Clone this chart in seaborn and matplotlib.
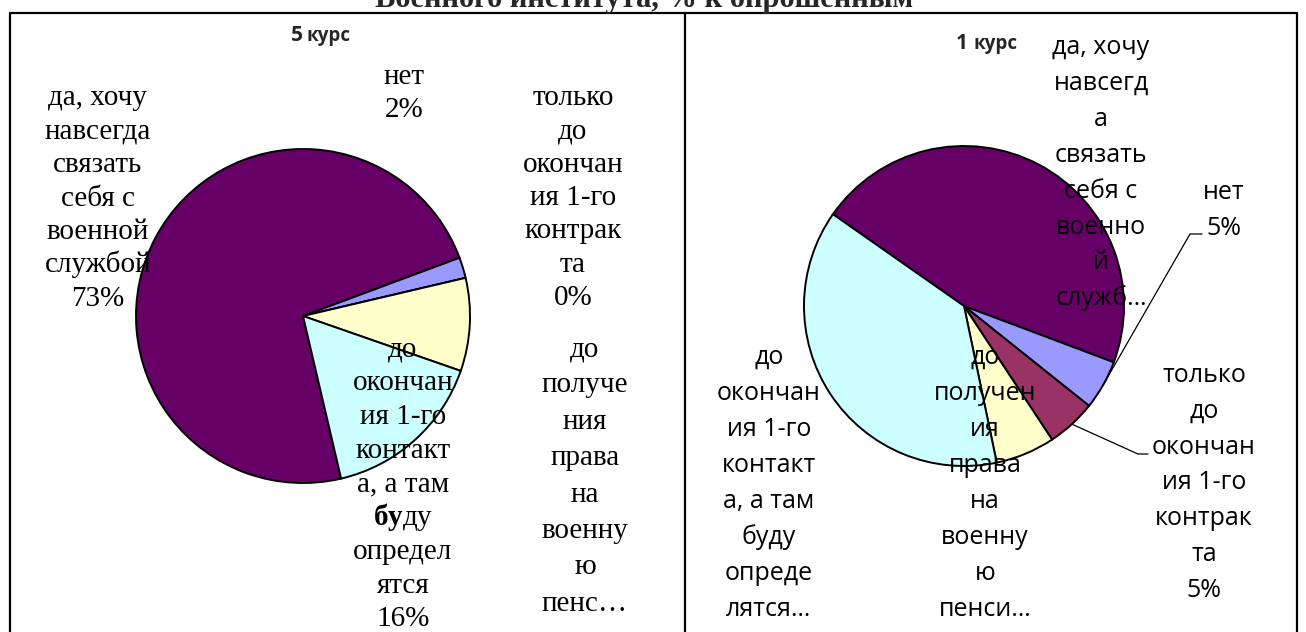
import numpy as np
import pandas as pd
import seaborn as sns
import matplotlib
matplotlib.use("Agg")
import matplotlib.pyplot as plt
from matplotlib.lines import Line2D

# ---------------- data ----------------
title_text = "Военного института, % к опрошенным"
course_5_num, course_5_word = "5", "курс"
course_1_num, course_1_word = "1", "курс"

categories = [
    "да, хочу навсегда связать себя с военной службой",
    "нет",
    "только до окончания 1-го контракта",
    "до получения права на военную пенсию",
    "до окончания 1-го контакта, а там буду определятся",
]
values_5 = [73, 2, 0, 9, 16]
values_1 = [46, 5, 5, 6, 38]

labels_5 = [
    "да, хочу\nнавсегда\nсвязать\nсебя с\nвоенной\nслужбой\n73%",
    "нет\n2%",
    "только\nдо\nокончан\nия 1-го\nконтрак\nта\n0%",
    "до\nполуче\nния\nправа\nна\nвоенну\nю\nпенс…",
    "до\nокончан\nия 1-го\nконтакт\nа, а там\n$\\mathbf{бу}$ду\nопредел\nятся\n16%",
]
labels_1 = [
    "да, хочу\nнавсегд\nа\nсвязать\nсебя с\nвоенно\nй\nслужб…",
    "нет\n5%",
    "только\nдо\nокончан\nия 1-го\nконтрак\nта\n5%",
    "до\nполучен\nия\nправа\nна\nвоенну\nю\nпенси…",
    "до\nокончан\nия 1-го\nконтакт\nа, а там\nбуду\nопреде\nлятся…",
]

colors = ["#660066", "#9999FF", "#993366", "#FFFFCC", "#CCFFFF"]

# ---------------- style ----------------
sns.set_theme(style="white")
plt.rcParams["font.family"] = ["Liberation Serif", "DejaVu Serif"]
plt.rcParams["mathtext.fontset"] = "custom"
plt.rcParams["mathtext.rm"] = "Liberation Serif"
plt.rcParams["mathtext.bf"] = "Liberation Serif:bold"

W, H = 1306, 632
fig = plt.figure(figsize=(W / 100, H / 100), dpi=100, facecolor="white")

SERIF = ["Liberation Serif", "DejaVu Serif"]
SANS = ["Open Sans", "DejaVu Sans"]


def fx(x):
    return x / W


def fy(y):
    return 1 - y / H


def draw_label(text, x, y0, step, size, family):
    for i, line in enumerate(text.split("\n")):
        fig.text(fx(x), fy(y0 + i * step), line, ha="center", va="baseline",
                 fontsize=size, family=family, color="black")


def pie_axes(cx, cy, r, values, start):
    ax = fig.add_axes([fx(cx - r), fy(cy + r), 2 * r / W, 2 * r / H])
    wedges, _ = ax.pie(values, colors=colors, startangle=start, counterclock=False,
                       radius=1, wedgeprops=dict(edgecolor="black", linewidth=1.4))
    for w in wedges:
        w.set_clip_on(False)
    ax.set_xlim(-1, 1)
    ax.set_ylim(-1, 1)
    ax.set_aspect("equal")
    ax.axis("off")
    return ax, wedges


# ---------------- frame ----------------
lw = 1.6
fig.add_artist(Line2D([fx(10), fx(1297)], [fy(13), fy(13)], color="black", lw=lw))
for xx in (10, 685, 1297):
    fig.add_artist(Line2D([fx(xx), fx(xx)], [fy(13), fy(H + 5)], color="black", lw=lw))

# title (cut off at the top edge, as in the source)
fig.text(fx(644), fy(7), title_text, ha="center", va="baseline", fontsize=22,
         fontweight="bold", family=SERIF)

# ---------------- left pie: 5 курс ----------------
axL, wL = pie_axes(303, 316, 167, values_5, 283.2)
fig.text(fx(291), fy(41), course_5_num, ha="left", va="baseline", fontsize=15,
         fontweight="bold", family=SANS)
fig.text(fx(306), fy(41), course_5_word, ha="left", va="baseline", fontsize=13.5,
         fontweight="bold", family=SANS)

pos5 = [(98, 105, 33.5), (404, 84, 33), (573, 105, 33.3), (585, 356, 36.4), (403, 356.5, 33.75)]
for lab, (x, y0, st) in zip(labels_5, pos5):
    draw_label(lab, x, y0, st, 21, SERIF)

# ---------------- right pie: 1 курс ----------------
axR, wR = pie_axes(964, 306, 160, values_1, 145)
fig.text(fx(956), fy(49), course_1_num, ha="left", va="baseline", fontsize=15,
         fontweight="bold", family=SANS)
fig.text(fx(974), fy(49), course_1_word, ha="left", va="baseline", fontsize=13.5,
         fontweight="bold", family=SANS)

pos1 = [(1101, 54, 35.9), (1224, 199, 36), (1204, 382, 35.8), (985, 364, 36), (769, 364, 36)]
for lab, (x, y0, st) in zip(labels_1, pos1):
    draw_label(lab, x, y0, st, 18, SANS)

# leader lines (label anchor -> slice mid-point on the rim)
inv = axR.transData.inverted()
for idx, (p1, p2) in {1: ((1202, 234), (1190, 234)), 2: ((1148, 454), (1138, 454))}.items():
    w = wR[idx]
    mid = np.deg2rad((w.theta1 + w.theta2) / 2)
    ex, ey = np.cos(mid), np.sin(mid)
    a = inv.transform((p1[0], H - p1[1]))
    b = inv.transform((p2[0], H - p2[1]))
    axR.add_line(Line2D([a[0], b[0], ex], [a[1], b[1], ey], color="black", lw=0.9,
                        clip_on=False))

fig.savefig("out.png", dpi=100, facecolor="white")
